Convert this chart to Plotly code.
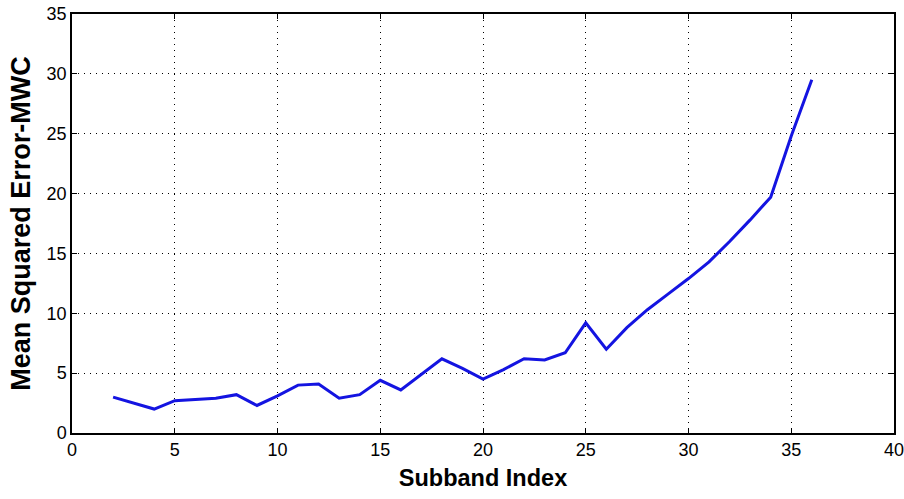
import plotly.graph_objects as go

subband = list(range(2, 37))
mse = [3.0, 2.5, 2.0, 2.7, 2.8, 2.9, 3.2, 2.3, 3.1, 4.0, 4.1, 2.9, 3.2, 4.4, 3.6,
       4.9, 6.2, 5.4, 4.5, 5.3, 6.2, 6.1, 6.7, 9.2, 7.0, 8.8, 10.3, 11.6, 12.9, 14.3,
       16.0, 17.8, 19.7, 24.8, 29.5]

x_ticks = [0, 5, 10, 15, 20, 25, 30, 35, 40]
y_ticks = [0, 5, 10, 15, 20, 25, 30, 35]

fig = go.Figure()
fig.add_trace(go.Scatter(x=subband, y=mse, mode="lines",
                         line=dict(color="rgb(20,20,225)", width=3)))

axis_common = dict(
    showline=True, linecolor="black", linewidth=1.5, mirror="allticks",
    ticks="inside", ticklen=5, tickcolor="black",
    showgrid=True, gridcolor="black", griddash="1px,5px", gridwidth=1.2,
    zeroline=False, automargin=False, ticklabeloverflow="allow",
    tickfont=dict(family="Liberation Sans, Arial", size=18, color="black"),
)

fig.update_xaxes(range=[0, 40], tickvals=x_ticks, **axis_common,
                 title=dict(text="<b>Subband Index</b>", standoff=10,
                            font=dict(family="Liberation Sans, Arial", size=23.5, color="black")))
fig.update_yaxes(range=[0, 35], tickvals=y_ticks, **axis_common,
                 title=dict(text="<b>Mean Squared Error-MWC</b>", standoff=8,
                            font=dict(family="Liberation Sans, Arial", size=27, color="black")))

fig.update_layout(
    width=904, height=499,
    margin=dict(l=72, r=10, t=14, b=66),
    paper_bgcolor="white", plot_bgcolor="white",
    showlegend=False,
)

fig.write_html("out.html")
